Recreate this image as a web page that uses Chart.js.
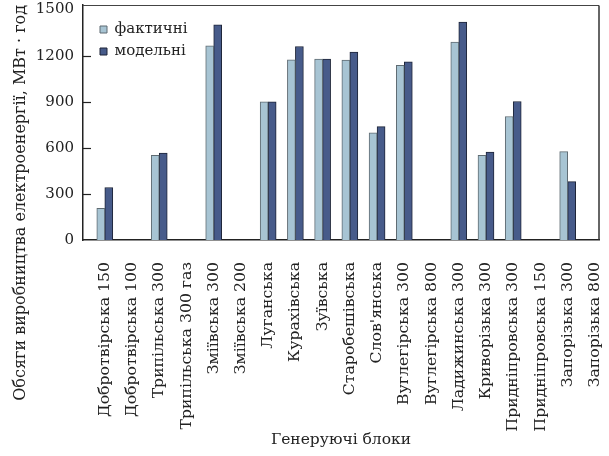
<!DOCTYPE html>
<html><head><meta charset="utf-8">
<script src="https://cdn.jsdelivr.net/npm/chart.js@4/dist/chart.umd.min.js"></script>
<style>html,body{margin:0;padding:0;background:#fff;} #wrap{width:609px;height:456px;position:relative;}</style>
</head><body><div id="wrap"><canvas id="c" width="609" height="456"></canvas></div>
<script>
const categories = ['Добротвірська 150','Добротвірська 100','Трипільська 300','Трипільська 300 газ','Зміївська 300','Зміївська 200','Луганська','Курахівська','Зуївська','Старобешівська',"Слов'янська",'Вуглегірська 300','Вуглегірська 800','Ладижинська 300','Криворізька 300','Придніпровська 300','Придніпровська 150','Запорізька 300','Запорізька 800'];
const actualValues = [207,null,551,null,1264,null,900,1173,1178,1171,697,1138,null,1289,551,804,null,575,null];
const modelValues  = [342,null,566,null,1401,null,900,1260,1178,1223,738,1160,null,1419,573,902,null,380,null];
const seriesNames = ['фактичні','модельні'];
const yTickValues = [0,300,600,900,1200,1500];
const yTitle = 'Обсяги виробництва електроенергії, МВт · год';
const xTitle = 'Генеруючі блоки';

const FONT = 'DejaVu Serif';
const INK = '#222';

const framePlugin = {
  id: 'frame',
  afterLayout(chart) {
    if (chart.legend) { chart.legend.left += 10; chart.legend.top += 15; chart.legend.bottom += 15; }
  },
  afterDraw(chart) {
    const {ctx, chartArea: a, scales} = chart;
    ctx.save();
    const ty = Math.round(a.top) + 0.5;
    ctx.strokeStyle = '#444'; ctx.lineWidth = 1;
    ctx.beginPath(); ctx.moveTo(a.left, ty); ctx.lineTo(a.right, ty); ctx.stroke();
    ctx.strokeStyle = '#333'; ctx.lineWidth = 1.5;
    ctx.beginPath(); ctx.moveTo(a.right, ty); ctx.lineTo(a.right, a.bottom); ctx.stroke();
    ctx.strokeStyle = INK; ctx.lineWidth = 1.2;
    scales.y.ticks.forEach((t, i, arr) => {
      if (i === 0 || i === arr.length - 1) return;
      const py = Math.round(scales.y.getPixelForValue(t.value)) + 0.5;
      ctx.beginPath(); ctx.moveTo(a.left, py); ctx.lineTo(a.left + 8, py); ctx.stroke();
    });
    ctx.restore();
  }
};

new Chart(document.getElementById('c'), {
  type: 'bar',
  data: {
    labels: categories,
    datasets: [
      { label: seriesNames[0], data: actualValues, backgroundColor: '#a7c4d3', borderColor: '#5f6b72', borderWidth: 1, borderSkipped: 'start' },
      { label: seriesNames[1], data: modelValues, backgroundColor: '#475b8a', borderColor: '#1e2538', borderWidth: 1, borderSkipped: 'start' }
    ]
  },
  options: {
    responsive: false,
    animation: false,
    devicePixelRatio: 1,
    layout: { padding: { left: 6, right: 10, top: 5, bottom: 6 } },
    datasets: { bar: { barThickness: 8 } },
    plugins: {
      legend: {
        position: 'chartArea',
        align: 'start',
        labels: {
          font: { family: FONT, size: 15 },
          color: INK,
          boxWidth: 7, boxHeight: 7,
          padding: 7
        }
      },
      tooltip: { enabled: false }
    },
    scales: {
      x: {
        type: 'category',
        afterBuildTicks(scale) {
          scale._startValue = -0.8;
          scale._valueRange = 18.95;
        },
        afterFit(scale) { scale.height = 210; scale.paddingLeft = 0; scale.paddingRight = 0; },
        grid: { display: false, drawTicks: false },
        border: { display: true, color: INK, width: 1.5 },
        ticks: {
          autoSkip: false, maxRotation: 90, minRotation: 90, padding: 22,
          font: { family: FONT, size: 15.7 }, color: INK
        },
        title: { display: true, text: xTitle, font: { family: FONT, size: 15.5 }, color: INK, padding: { top: 0, bottom: 1 } }
      },
      y: {
        min: 0, max: 1530,
        afterBuildTicks(scale) { scale.ticks = yTickValues.map(v => ({ value: v })); },
        afterFit(scale) { scale.width = 77; scale.paddingTop = 0; scale.paddingBottom = 0; },
        grid: { display: false, drawTicks: false },
        border: { display: true, color: INK, width: 1.5 },
        ticks: { padding: 9, font: { family: FONT, size: 15 }, color: INK, callback: v => String(v) },
        title: { display: true, text: yTitle, align: 'end', font: { family: FONT, size: 16 }, color: INK, padding: { top: 5, bottom: 0 } }
      }
    }
  },
  plugins: [framePlugin]
});
</script>
</body></html>
